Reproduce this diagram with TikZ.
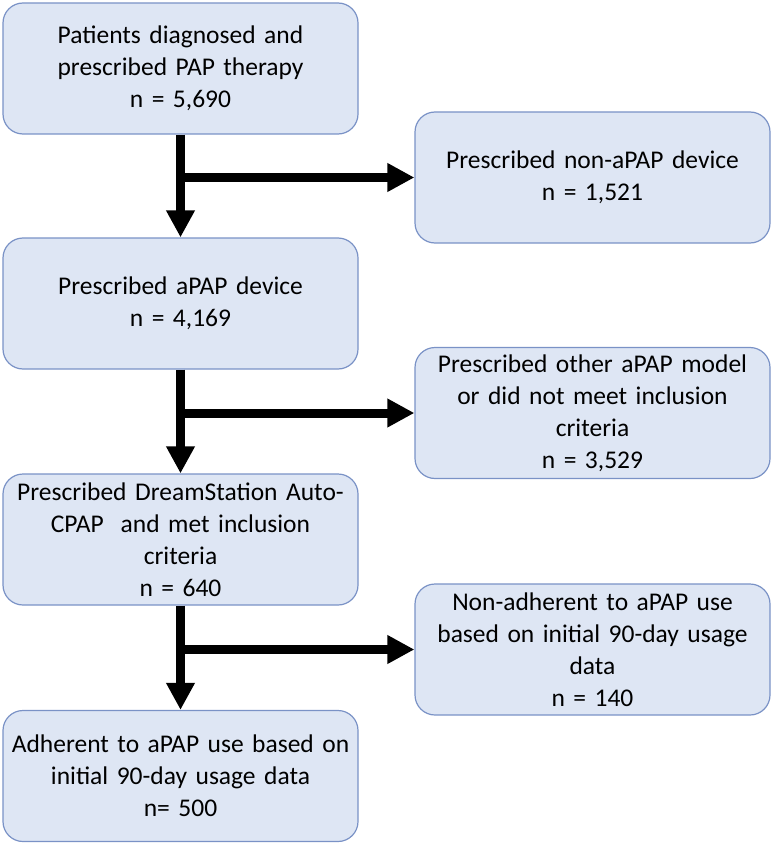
\documentclass[tikz,border=0pt]{standalone}
\usepackage{fontspec}
\setmainfont{Carlito}
\usepackage{tikz}
\usetikzlibrary{arrows.meta}
\definecolor{boxfill}{HTML}{DEE6F4}
\definecolor{boxline}{HTML}{7A92C6}
\tikzset{%
  flowedge/.style={-{Triangle[width=27pt,length=27pt]}, line width=9pt, black},
  flownode/.style={rectangle, rounded corners=20pt, draw=boxline, line width=1.2pt,
    fill=boxfill, minimum width=355pt, minimum height=131pt, text width=345pt,
    align=center, font=\fontsize{25.5}{32}\selectfont}
}

\begin{document}
\begin{tikzpicture}[x=1pt, y=-1pt]
  \useasboundingbox (0,0) rectangle (773,845);
  % left column
  \node[flownode] (start) at (180.5,68.5) {Patients diagnosed and\\prescribed PAP therapy\\n = 5,690};
  \node[flownode] (apap) at (180.5,303.5) {Prescribed aPAP device\\n = 4,169};
  \node[flownode] (dream) at (180.5,539.5) {Prescribed DreamStation Auto-\\CPAP\ \ and met inclusion\\criteria\\n = 640};
  \node[flownode] (adh) at (180.5,776) {Adherent to aPAP use based on\\initial 90-day usage data\\n= 500};
  % right column
  \node[flownode] (nonapap) at (592.5,177.5) {Prescribed non-aPAP device\\n = 1,521};
  \node[flownode] (other) at (592.5,413) {Prescribed other aPAP model\\or did not meet inclusion\\criteria\\n = 3,529};
  \node[flownode] (nonadh) at (592.5,649.5) {Non-adherent to aPAP use\\based on initial 90-day usage\\data\\n = 140};
  % connectors
  \draw [flowedge] (start.south) -- (apap.north);
  \draw [flowedge] (start.south |- nonapap.west) -- (nonapap.west);
  \draw [flowedge] (apap.south) -- (dream.north);
  \draw [flowedge] (apap.south |- other.west) -- (other.west);
  \draw [flowedge] (dream.south) -- (adh.north);
  \draw [flowedge] (dream.south |- nonadh.west) -- (nonadh.west);
\end{tikzpicture}
\end{document}
